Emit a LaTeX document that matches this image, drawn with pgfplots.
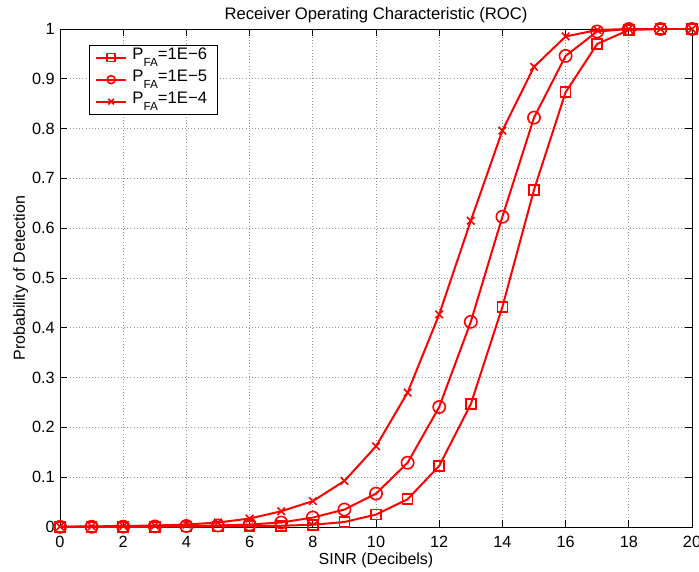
\documentclass[border=0pt]{standalone}
\usepackage{fontspec}
\setmainfont{Liberation Sans}
\usepackage{pgfplots}
\pgfplotsset{compat=1.18}
\newcommand{\pfa}{P\raisebox{-5.5pt}{\fontsize{8.8}{9}\selectfont FA}}
\begin{document}
\begin{tikzpicture}[x=0.75pt,y=0.75pt]
\path[use as bounding box] (-60,-44) rectangle (639,527);
\begin{axis}[
  at={(0,0)}, anchor=south west,
  scale only axis,
  width=474pt, height=373.5pt,
  xmin=0, xmax=20, ymin=0, ymax=1,
  xtick={0,2,...,20},
  ytick={0,0.1,...,1},
  yticklabels={0,0.1,0.2,0.3,0.4,0.5,0.6,0.7,0.8,0.9,1},
  tick align=inside,
  tick pos=both,
  major tick length=5pt,
  grid=major,
  major grid style={dotted, gray!85, line width=0.5pt},
  axis line style={line width=0.6pt},
  every tick/.style={black, line width=0.6pt},
  /pgf/number format/assume math mode=true,
  tick label style={font=\fontsize{12.2}{14}\selectfont, inner sep=0pt},
  xticklabel style={anchor=base, yshift=-15pt},
  yticklabel style={anchor=east, xshift=-3.75pt},
  label style={font=\fontsize{12}{14}\selectfont},
  title style={font=\fontsize{12.5}{14}\selectfont, at={(axis description cs:0.5,1)}, anchor=base, yshift=1.3pt},
  title={Receiver Operating Characteristic (ROC)},
  xlabel={SINR (Decibels)},
  ylabel={Probability of Detection},
  xlabel style={at={(axis description cs:0.5,-0.0763)}, anchor=base},
  ylabel style={at={(axis description cs:-0.0554,0.5)}, anchor=base},
  legend style={at={(axis description cs:0.0465,0.968)}, anchor=north west, font=\fontsize{12.5}{14}\selectfont, draw=black, line width=0.6pt, inner xsep=4pt, inner ysep=1pt,
    nodes={text height=9pt, text depth=6.5pt, inner ysep=0.5pt, inner xsep=4pt}},
  legend cell align=left,
  legend image code/.code={\draw[#1] (0pt,0pt) -- (22.5pt,0pt); \draw[#1, mark repeat=1, mark size=3pt] plot coordinates {(11.25pt,0pt)};},
]
\addplot[red, line width=1.5pt, mark=square, mark size=3.75pt, mark options={solid, line width=1.2pt}] coordinates {
(0,0.0001) (1,0.0002) (2,0.0003) (3,0.0005) (4,0.0008) (5,0.0012) (6,0.0018) (7,0.0025) (8,0.0045) (9,0.01)
(10,0.025) (11,0.0557) (12,0.1227) (13,0.2467) (14,0.442) (15,0.677) (16,0.873) (17,0.970) (18,0.998) (19,1.0) (20,1.0)};
\addlegendentry{\pfa=1E−6\hspace{6pt}}
\addplot[red, line width=1.5pt, mark=o, mark size=4.6pt, mark options={solid, line width=1.2pt}] coordinates {
(0,0.0003) (1,0.0005) (2,0.0008) (3,0.0012) (4,0.002) (5,0.003) (6,0.005) (7,0.009) (8,0.019) (9,0.035)
(10,0.067) (11,0.129) (12,0.241) (13,0.412) (14,0.623) (15,0.822) (16,0.946) (17,0.995) (18,1.0) (19,1.0) (20,1.0)};
\addlegendentry{\pfa=1E−5\hspace{6pt}}
\addplot[red, line width=1.5pt, mark=x, mark size=4pt, mark options={solid, line width=1.2pt}] coordinates {
(0,0.0008) (1,0.0012) (2,0.002) (3,0.003) (4,0.005) (5,0.009) (6,0.017) (7,0.0316) (8,0.052) (9,0.0925)
(10,0.162) (11,0.270) (12,0.427) (13,0.615) (14,0.796) (15,0.924) (16,0.985) (17,0.998) (18,1.0) (19,1.0) (20,1.0)};
\addlegendentry{\pfa=1E−4\hspace{6pt}}
\end{axis}
\end{tikzpicture}
\end{document}
